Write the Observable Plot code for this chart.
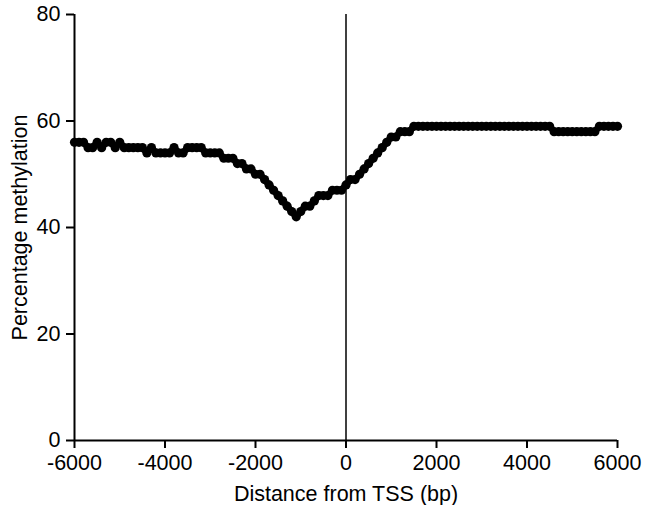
<!DOCTYPE html>
<html><head><meta charset="utf-8">
<script src="https://cdn.jsdelivr.net/npm/d3@7"></script>
<script src="https://cdn.jsdelivr.net/npm/@observablehq/plot@0.6"></script>
<style>body{margin:0;background:#fff}</style>
</head><body><div id="chart"></div>
<script>
// distance from TSS (bp), every 100 bp
const distance = d3.range(-6000, 6001, 100);
// percentage methylation
const methylation = [
  56,56,56,55,55,56,55,56,56,55, // -6000..-5100
  56,55,55,55,55,55,54,55,54,54, // -5000..-4100
  54,54,55,54,54,55,55,55,55,54, // -4000..-3100
  54,54,54,53,53,53,52,52,51,51, // -3000..-2100
  50,50,49,48,47,46,45,44,43,42, // -2000..-1100
  43,44,44,45,46,46,46,47,47,47, // -1000..-100
  48,49,49,50,51,52,53,54,55,56, // 0..900
  57,57,58,58,58,59,59,59,59,59, // 1000..1900
  59,59,59,59,59,59,59,59,59,59, // 2000..2900
  59,59,59,59,59,59,59,59,59,59, // 3000..3900
  59,59,59,59,59,59,58,58,58,58, // 4000..4900
  58,58,58,58,58,58,59,59,59,59, // 5000..5900
  59                             // 6000
];
const xTicks = [-6000,-4000,-2000,0,2000,4000,6000];
const yTicks = [0,20,40,60,80];
const data = distance.map((d,i)=>({x:d, y:methylation[i]}));

const chart = Plot.plot({
  width: 645, height: 505,
  marginLeft: 74, marginRight: 28, marginTop: 14, marginBottom: 65,
  style: {fontFamily: "'Liberation Sans', Arial, sans-serif", fontSize: "21px", color: "#000", background: "#fff"},
  x: {domain: [-6000, 6000]},
  y: {domain: [0, 80]},
  marks: [
    Plot.axisX({ticks: xTicks, tickFormat: d => String(d), tickSize: 8, tickPadding: 6, strokeWidth: 2, label: "Distance from TSS (bp)", labelAnchor: "center", labelArrow: "none", labelOffset: 60, fontSize: 21.5, fill: "#000"}),
    Plot.axisY({ticks: yTicks, tickFormat: d => String(d), tickSize: 8, tickPadding: 6, strokeWidth: 2, label: "Percentage methylation", labelAnchor: "center", labelArrow: "none", labelOffset: 63, fontSize: 21.5, fill: "#000"}),
    Plot.ruleY([0], {stroke: "#000", strokeWidth: 2}),
    Plot.ruleX([-6000], {stroke: "#000", strokeWidth: 2}),
    Plot.ruleX([0], {y1: 0, y2: 80, stroke: "#000", strokeWidth: 1.5}),
    Plot.line(data, {x: "x", y: "y", stroke: "#000", strokeWidth: 6.5}),
    Plot.dot(data, {x: "x", y: "y", r: 4.6, fill: "#000", stroke: "none"})
  ]
});
document.getElementById("chart").appendChild(chart);
</script>
</body></html>
